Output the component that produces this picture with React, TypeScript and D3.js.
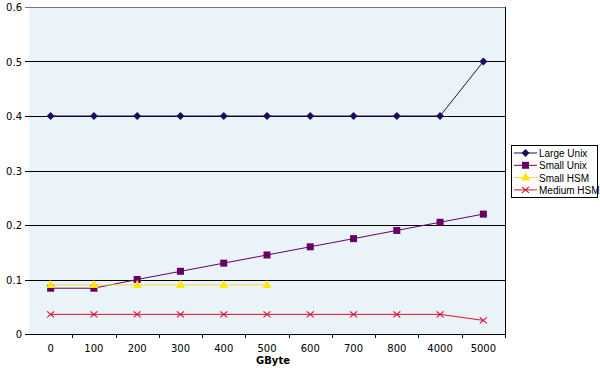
import React from 'react'
import * as d3 from 'd3'

const categories = ['0', '100', '200', '300', '400', '500', '600', '700', '800', '4000', '5000']
const largeUnix = [0.4, 0.4, 0.4, 0.4, 0.4, 0.4, 0.4, 0.4, 0.4, 0.4, 0.5]
const smallUnix = [0.084, 0.084, 0.1, 0.115, 0.13, 0.145, 0.16, 0.175, 0.19, 0.205, 0.22]
const smallHSM = [0.09, 0.09, 0.09, 0.09, 0.09, 0.09]
const mediumHSM = [0.036, 0.036, 0.036, 0.036, 0.036, 0.036, 0.036, 0.036, 0.036, 0.036, 0.025]
const yTicks = [0, 0.1, 0.2, 0.3, 0.4, 0.5, 0.6]

const series = [
  { name: 'Large Unix', values: largeUnix, color: '#1c0c5c', line: '#1c0c5c', marker: 'diamond' },
  { name: 'Small Unix', values: smallUnix, color: '#660066', line: '#660066', marker: 'square' },
  { name: 'Small HSM', values: smallHSM, color: '#ffe800', line: '#f2dc3a', marker: 'triangle' },
  { name: 'Medium HSM', values: mediumHSM, color: '#dd1133', line: '#dd1133', marker: 'x' },
]

const W = 600
const H = 368
const plot = { left: 29, right: 505, top: 7, bottom: 334 }
const font = '"DejaVu Sans", Verdana, sans-serif'
const legendFont = '"Liberation Sans", Arial, sans-serif'

const Marker = ({ type, x, y, color }: { type: string; x: number; y: number; color: string }) => {
  if (type === 'diamond') {
    const s = 4
    return <path d={`M${x},${y - s}L${x + s},${y}L${x},${y + s}L${x - s},${y}Z`} fill={color} />
  }
  if (type === 'square') {
    return <rect x={x - 3.5} y={y - 3.5} width={7} height={7} fill={color} />
  }
  if (type === 'triangle') {
    return <path d={`M${x},${y - 5}L${x + 4.5},${y + 3}L${x - 4.5},${y + 3}Z`} fill={color} />
  }
  return (
    <path d={`M${x - 3.5},${y - 3}L${x + 3.5},${y + 3}M${x - 3.5},${y + 3}L${x + 3.5},${y - 3}`}
      stroke={color} strokeWidth={1.2} fill="none" />
  )
}

const App = () => {
  const x = d3.scaleBand().domain(categories).range([plot.left, plot.right])
  const y = d3.scaleLinear().domain([0, 0.6]).range([plot.bottom, plot.top])
  const cx = (c: string) => (x(c) as number) + x.bandwidth() / 2
  const line = d3.line<number>().x((_, i) => cx(categories[i])).y(d => y(d))

  return (
    <svg width={W} height={H} style={{ position: 'absolute', left: 0, top: 0, background: '#fff' }}>
      <rect x={plot.left} y={plot.top} width={plot.right - plot.left} height={plot.bottom - plot.top} fill="#eaf3f8" />
      {yTicks.map(t => (
        <g key={t}>
          <line x1={plot.left - 4} x2={plot.right} y1={Math.round(y(t)) + 0.5} y2={Math.round(y(t)) + 0.5}
            stroke={t === 0.6 ? '#777' : '#000'} strokeWidth={1} />
          <text x={22} y={y(t) + 4} textAnchor="end" fontFamily={font} fontSize={10} fill="#000">
            {t === 0 ? '0' : d3.format('.1f')(t)}
          </text>
        </g>
      ))}
      <line x1={plot.right + 0.5} x2={plot.right + 0.5} y1={plot.top} y2={plot.bottom} stroke="#000" />
      {categories.map(c => (
        <line key={'t' + c} x1={Math.round((x(c) as number) + x.bandwidth()) + 0.5}
          x2={Math.round((x(c) as number) + x.bandwidth()) + 0.5}
          y1={plot.bottom} y2={plot.bottom + 4} stroke="#000" />
      ))}
      {categories.map(c => (
        <text key={'l' + c} x={cx(c)} y={plot.bottom + 18} textAnchor="middle" fontFamily={font} fontSize={10} fill="#000">
          {c}
        </text>
      ))}
      <text x={273} y={364} textAnchor="middle" fontFamily={font} fontSize={10} fontWeight="bold" fill="#000">GByte</text>
      {series.map(s => (
        <g key={s.name}>
          <path d={line(s.values) as string} fill="none" stroke={s.line} strokeWidth={1} />
          {s.values.map((v, i) => (
            <Marker key={i} type={s.marker} x={cx(categories[i])} y={y(v)} color={s.color} />
          ))}
        </g>
      ))}
      <rect x={511.5} y={145.5} width={86} height={52} fill="#fff" stroke="#000" />
      {series.map((s, i) => {
        const ly = 153 + i * 12.3
        return (
          <g key={'lg' + s.name}>
            <line x1={514} x2={537} y1={ly} y2={ly} stroke={s.line} />
            <Marker type={s.marker} x={525.5} y={ly} color={s.color} />
            <text x={539} y={ly + 4} fontFamily={legendFont} fontSize={10} fill="#000">{s.name}</text>
          </g>
        )
      })}
    </svg>
  )
}

export default App
